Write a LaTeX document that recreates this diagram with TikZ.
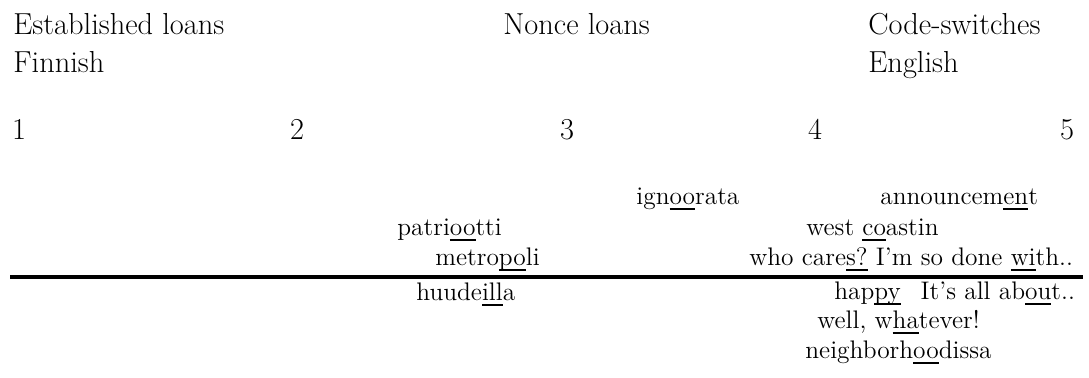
\documentclass[tikz,border=0pt]{standalone}
\usepackage{tikz}
\usetikzlibrary{positioning}
\newcommand{\udl}[1]{\setbox0\hbox{#1}\rlap{\rule[-2.9pt]{\wd0}{0.9pt}}\box0\relax}
\tikzset{%
	head/.style     = {anchor=base west, inner sep=0pt, font=\fontsize{15.2}{18}\selectfont}, % Header
	num/.style      = {anchor=base, inner sep=0pt, font=\fontsize{15.2}{18}\selectfont}, % Scale point
	word/.style     = {anchor=base west, inner sep=0pt, font=\fontsize{12.7}{15}\selectfont}, % Example
	scaleline/.style = {line width=2pt}, % Divider
}
\begin{document}
\begin{tikzpicture}[x=0.5pt, y=-0.5pt]
		\useasboundingbox (0,0) rectangle (1089,377);
		% headers
		\node[head] (est) at (13,34) {Established loans};
		\node[head] (fin) at (13,72) {Finnish};
		\node[head] (nonce) at (503,34) {Nonce loans};
		\node[head] (cs) at (868,34) {Code-switches};
		\node[head] (eng) at (868,72) {English};
		% scale points
		\foreach \n/\x in {1/19, 2/297, 3/567, 4/815, 5/1067}
			\node[num] (p\n) at (\x,139) {\n};
		% above the line
		\node[word] (ign) at (636,204) {ign\udl{oo}rata};
		\node[word] (ann) at (880,204) {announcem\udl{en}t};
		\node[word] (pat) at (397,235) {patri\udl{oo}tti};
		\node[word] (west) at (806,235) {west \udl{co}astin};
		\node[word] (met) at (435,265) {metro\udl{po}li};
		\node[word] (who) at (749,265) {who care\udl{s?} I'm so done \udl{wi}th..};
		% the line
		\coordinate (left) at (10,277);
		\coordinate (right) at (1083,277);
		\draw[scaleline] (left) -- (right);
		% below the line
		\node[word] (huu) at (416,300) {huude\udl{ill}a};
		\node[word] (hap) at (834,299) {hap\udl{py}\hspace{10pt}It's all ab\udl{ou}t..};
		\node[word] (wel) at (817,328) {well, w\udl{ha}tever!};
		\node[word] (nei) at (805,358) {neighborh\udl{oo}dissa};
		\end{tikzpicture}
\end{document}
